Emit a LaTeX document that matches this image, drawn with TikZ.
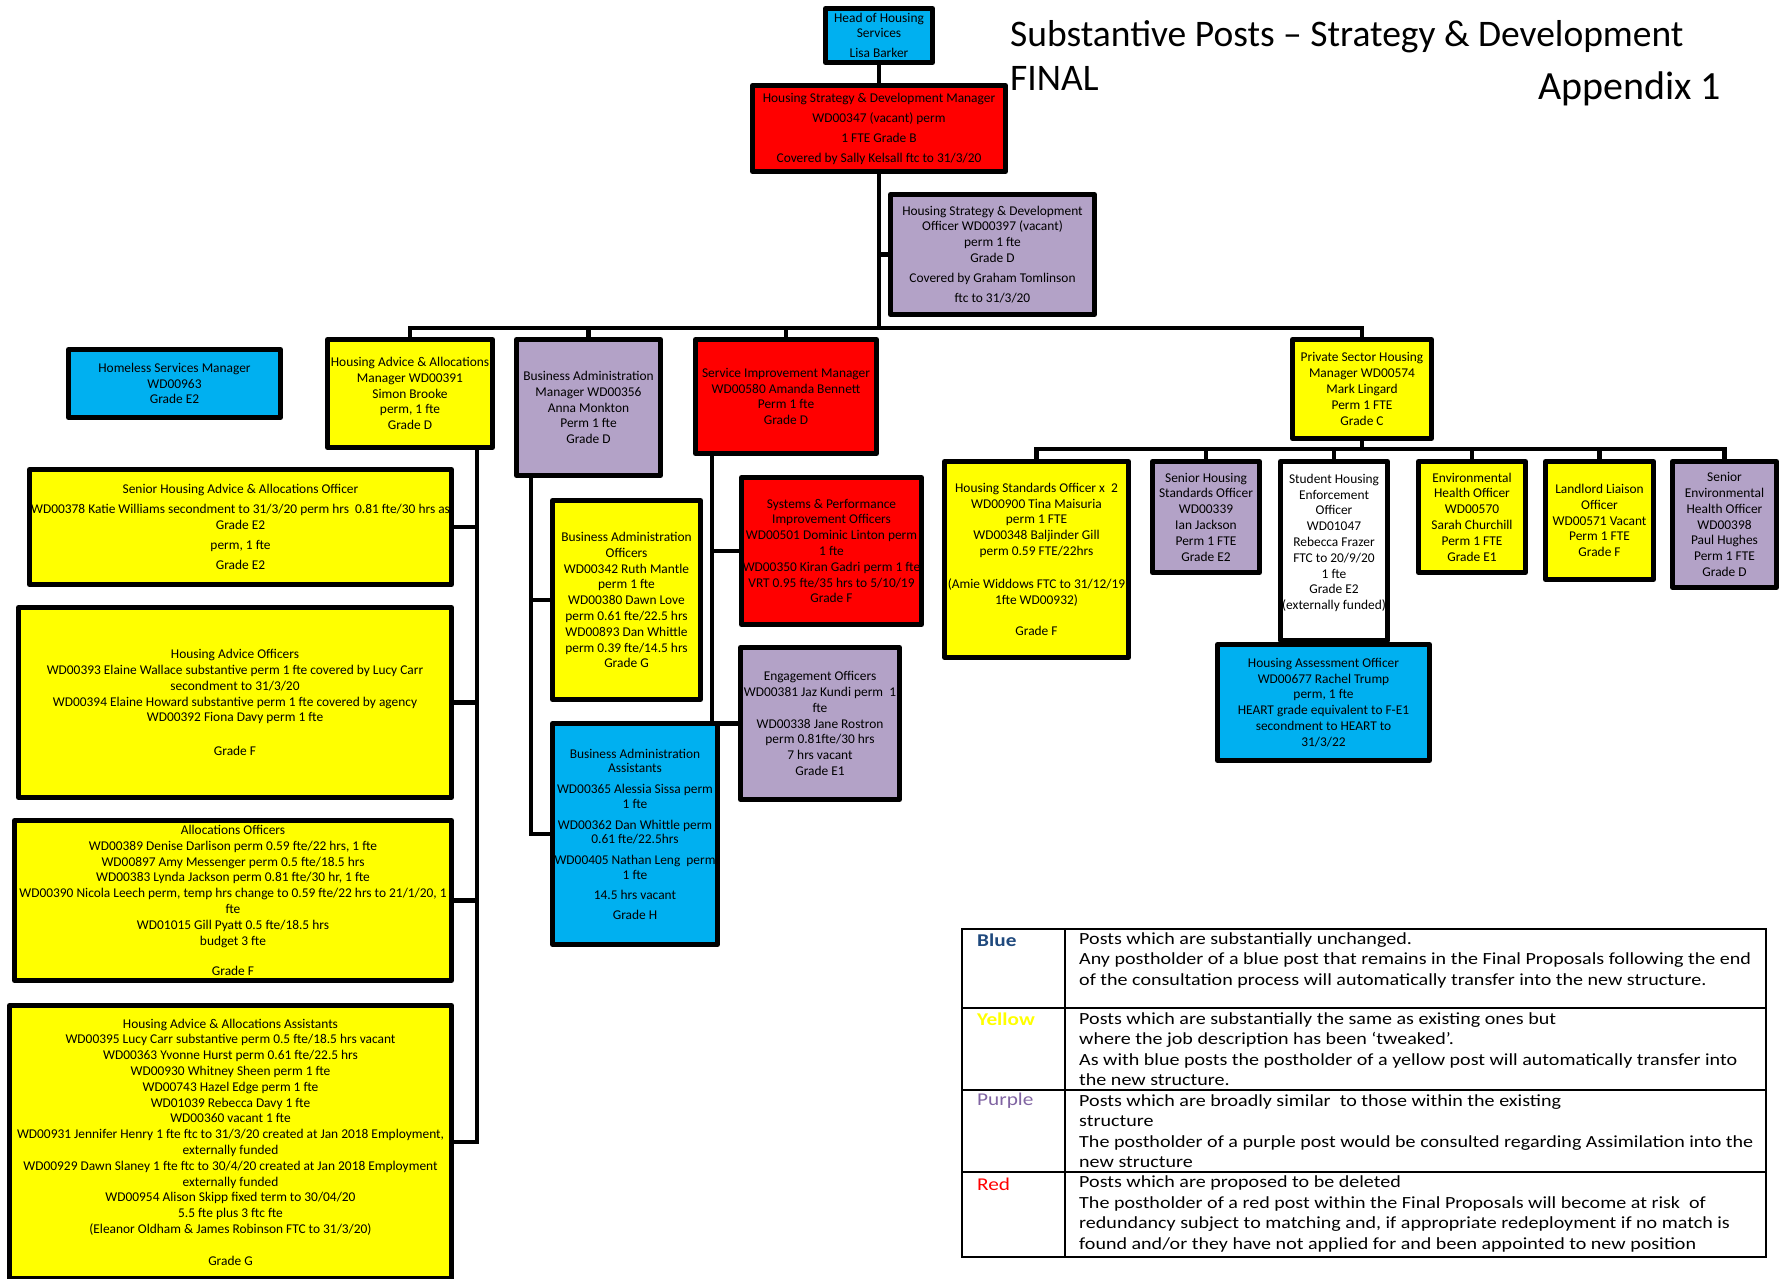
\documentclass[tikz,border=0pt]{standalone}
\usepackage{fontspec}
\setmainfont{Carlito}
\newfontfamily\legfont[FakeStretch=1.18]{Carlito}
\usetikzlibrary{fit}
\pgfdeclarelayer{back}
\pgfdeclarelayer{bg}
\pgfsetlayers{back,bg,main}
\definecolor{cblue}{HTML}{00B0F0}
\definecolor{cred}{HTML}{FF0000}
\definecolor{cyel}{HTML}{FFFF00}
\definecolor{cpur}{HTML}{B3A2C7}
\definecolor{lblue}{HTML}{1F497D}
\definecolor{lpur}{HTML}{8064A2}
\newcommand{\mkpost}[6][]{%
  \node[post, fill=#3, fit={([shift={(2.5,2.5)}]#4) ([shift={(-2.5,-2.5)}]#5)}] (#2) {};
  \node[txt,#1] (#2-t) at (#2.center) {#6};}
\begin{document}
\begin{tikzpicture}[x=1pt,y=-1pt,
  post/.style={draw=black, line width=5pt, inner sep=0pt, line join=round},
  txt/.style={align=center, inner sep=0pt, font=\fontsize{13.4}{15.8}\selectfont},
  conn/.style={line width=4.5pt, line cap=rect, draw=black},
  legline/.style={line width=2.5pt, draw=black},
  legtxt/.style={anchor=west, align=left, inner sep=0pt, font=\legfont\fontsize{17}{20.5}\selectfont},
  leglab/.style={anchor=west, inner sep=0pt, font=\legfont\fontsize{18}{20.5}\selectfont},
  titletxt/.style={anchor=base west, inner sep=0pt, font=\fontsize{37.5}{40}\selectfont}]
\useasboundingbox (0,0) rectangle (1783,1279);
\begin{pgfonlayer}{back}
\fill[white] (0,0) rectangle (1783,1279);
\end{pgfonlayer}

% title
\node[titletxt] (title) at (1010,47) {Substantive Posts – Strategy \& Development};
\node[titletxt] (final) at (1010,91) {FINAL};
\node[titletxt, font=\fontsize{40}{42}\selectfont] (app) at (1538,100) {Appendix 1};

% top
\mkpost[font=\fontsize{13.4}{14.5}\selectfont]{head}{cblue}{823,6}{935,65}{Head of Housing\\Services\\[6pt]Lisa Barker}
\mkpost{hsdm}{cred}{750,83}{1008,174}{Housing Strategy \& Development Manager\\[4.2pt]WD00347 (vacant) perm\\[4.2pt]1 FTE Grade B\\[4.2pt]Covered by Sally Kelsall ftc to 31/3/20}
\mkpost{hsdo}{cpur}{888,192}{1097,317}{Housing Strategy \& Development\\Officer WD00397 (vacant)\\perm 1 fte\\Grade D\\[4.2pt]Covered by Graham Tomlinson\\[4.2pt]ftc to 31/3/20}

% row 2
\mkpost{hsm}{cblue}{66,347}{283,420}{Homeless Services Manager\\WD00963\\Grade E2}
\mkpost{haam}{cyel}{325,337}{495,450}{Housing Advice \& Allocations\\Manager WD00391\\Simon Brooke\\perm, 1 fte\\Grade D}
\mkpost{bam}{cpur}{514,337}{663,478}{Business Administration\\Manager WD00356\\Anna Monkton\\Perm 1 fte\\Grade D}
\mkpost{sim}{cred}{693,337}{879,456}{Service Improvement Manager\\WD00580 Amanda Bennett\\Perm 1 fte\\Grade D}
\mkpost{psh}{cyel}{1290,337}{1434,441}{Private Sector Housing\\Manager WD00574\\Mark Lingard\\Perm 1 FTE\\Grade C}

% left column
\mkpost{shaao}{cyel}{27,467}{454,587}{Senior Housing Advice \& Allocations Officer\\[4.2pt]WD00378 Katie Williams secondment to 31/3/20 perm hrs\ \ 0.81 fte/30 hrs as\\Grade E2\\[4.2pt]perm, 1 fte\\[4.2pt]Grade E2}
\mkpost{hao}{cyel}{16,605}{454,800}{Housing Advice Officers\\WD00393 Elaine Wallace substantive perm 1 fte covered by Lucy Carr\\secondment to 31/3/20\\WD00394 Elaine Howard substantive perm 1 fte covered by agency\\WD00392 Fiona Davy perm 1 fte\\[18pt]Grade F}
\mkpost{alloc}{cyel}{12,818}{454,983}{Allocations Officers\\WD00389 Denise Darlison perm 0.59 fte/22 hrs, 1 fte\\WD00897 Amy Messenger perm 0.5 fte/18.5 hrs\\WD00383 Lynda Jackson perm 0.81 fte/30 hr, 1 fte\\WD00390 Nicola Leech perm, temp hrs change to 0.59 fte/22 hrs to 21/1/20, 1\\fte\\WD01015 Gill Pyatt 0.5 fte/18.5 hrs\\budget 3 fte\\[15pt]Grade F}
\mkpost{assist}{cyel}{7,1003}{454,1281}{Housing Advice \& Allocations Assistants\\WD00395 Lucy Carr substantive perm 0.5 fte/18.5 hrs vacant\\WD00363 Yvonne Hurst perm 0.61 fte/22.5 hrs\\WD00930 Whitney Sheen perm 1 fte\\WD00743 Hazel Edge perm 1 fte\\WD01039 Rebecca Davy 1 fte\\WD00360 vacant 1 fte\\WD00931 Jennifer Henry 1 fte ftc to 31/3/20 created at Jan 2018 Employment,\\externally funded\\WD00929 Dawn Slaney 1 fte ftc to 30/4/20 created at Jan 2018 Employment\\externally funded\\WD00954 Alison Skipp fixed term to 30/04/20\\5.5 fte plus 3 ftc fte\\(Eleanor Oldham \& James Robinson FTC to 31/3/20)\\[16pt]Grade G}

% business admin
\mkpost{bao}{cyel}{550,498}{703,702}{Business Administration\\Officers\\WD00342 Ruth Mantle\\perm 1 fte\\WD00380 Dawn Love\\perm 0.61 fte/22.5 hrs\\WD00893 Dan Whittle\\perm 0.39 fte/14.5 hrs\\Grade G}
\mkpost[font=\fontsize{13.4}{14.5}\selectfont]{baa}{cblue}{550,721}{720,947}{Business Administration\\Assistants\\[6.5pt]WD00365 Alessia Sissa perm\\1 fte\\[6.5pt]WD00362 Dan Whittle perm\\0.61 fte/22.5hrs\\[6.5pt]WD00405 Nathan Leng\ \ perm\\1 fte\\[5.5pt]14.5 hrs vacant\\[5.5pt]Grade H}

% service improvement
\mkpost{sys}{cred}{739,475}{924,627}{Systems \& Performance\\Improvement Officers\\WD00501 Dominic Linton perm\\1 fte\\WD00350 Kiran Gadri perm 1 fte\\VRT 0.95 fte/35 hrs to 5/10/19\\Grade F}
\mkpost{eng}{cpur}{738,645}{902,802}{Engagement Officers\\WD00381 Jaz Kundi perm\ \ 1\\fte\\WD00338 Jane Rostron\\perm 0.81fte/30 hrs\\7 hrs vacant\\Grade E1}

% private sector
\mkpost{hso}{cyel}{942,459}{1131,660}{Housing Standards Officer x\ \ 2\\WD00900 Tina Maisuria\\perm 1 FTE\\WD00348 Baljinder Gill\\perm 0.59 FTE/22hrs\\[17pt](Amie Widdows FTC to 31/12/19\\1fte WD00932)\\[16pt]Grade F}
\mkpost{shso}{cpur}{1150,459}{1262,575}{Senior Housing\\Standards Officer\\WD00339\\Ian Jackson\\Perm 1 FTE\\Grade E2}
\mkpost[yshift=8pt]{sheo}{white}{1278,459}{1390,643}{Student Housing\\Enforcement\\Officer\\WD01047\\Rebecca Frazer\\FTC to 20/9/20\\1 fte\\Grade E2\\(externally funded)}
\mkpost{eho}{cyel}{1416,459}{1528,575}{Environmental\\Health Officer\\WD00570\\Sarah Churchill\\Perm 1 FTE\\Grade E1}
\mkpost{llo}{cyel}{1543,459}{1656,582}{Landlord Liaison\\Officer\\WD00571 Vacant\\Perm 1 FTE\\Grade F}
\mkpost{seho}{cpur}{1670,459}{1779,590}{Senior\\Environmental\\Health Officer\\WD00398\\Paul Hughes\\Perm 1 FTE\\Grade D}
\mkpost{ha}{cblue}{1215,642}{1432,763}{Housing Assessment Officer\\WD00677 Rachel Trump\\perm, 1 fte\\HEART grade equivalent to F-E1\\secondment to HEART to\\31/3/22}

% connectors
\coordinate (busY) at (0,328);
\coordinate (sbY) at (0,449);
\coordinate (hsp) at (477,450);
\coordinate (bsp) at (531,478);
\coordinate (ssp) at (712,456);
\begin{pgfonlayer}{bg}
\draw[conn] (head.south) -- (hsdm.north);
\draw[conn] (hsdm.south) -- (hsdm.south |- busY);
\draw[conn] (hsdo.west) -- (hsdo.west -| hsdm.south);
\draw[conn] (haam.north) |- (psh.north |- busY) -- (psh.north);
\draw[conn] (bam.north) -- (bam.north |- busY);
\draw[conn] (sim.north) -- (sim.north |- busY);
% housing advice spine
\draw[conn] (hsp) |- (assist.east);
\draw[conn] (shaao.east) -- (shaao.east -| hsp);
\draw[conn] (hao.east) -- (hao.east -| hsp);
\draw[conn] (alloc.east) -- (alloc.east -| hsp);
% business admin spine
\draw[conn] (bsp) |- (baa.west);
\draw[conn] (bao.west) -- (bao.west -| bsp);
% service improvement spine
\draw[conn] (ssp) |- (eng.west);
\draw[conn] (sys.west) -- (sys.west -| ssp);
% private sector
\draw[conn] (psh.south) -- (psh.south |- sbY);
\draw[conn] (hso.north) |- (seho.north |- sbY) -- (seho.north);
\draw[conn] (shso.north) -- (shso.north |- sbY);
\draw[conn] (sheo.north) -- (sheo.north |- sbY);
\draw[conn] (eho.north) -- (eho.north |- sbY);
\draw[conn] (llo.north) -- (llo.north |- sbY);
\end{pgfonlayer}

% legend
\draw[legline] (962,929) rectangle (1766,1257);
\draw[legline] (962,1008) -- (1766,1008);
\draw[legline] (962,1090) -- (1766,1090);
\draw[legline] (962,1172) -- (1766,1172);
\draw[legline] (1065,929) -- (1065,1257);
\node[leglab, text=lblue, font=\legfont\fontsize{18}{20.5}\selectfont\bfseries] (lab1) at (977,940) {Blue};
\node[leglab, text=cyel, font=\legfont\fontsize{18}{20.5}\selectfont\bfseries] (lab2) at (977,1019) {Yellow};
\node[leglab, text=lpur] (lab3) at (977,1101) {Purple};
\node[leglab, text=cred] (lab4) at (977,1184) {Red};
\node[legtxt] (leg1) at (1079,960) {Posts which are substantially unchanged.\\Any postholder of a blue post that remains in the Final Proposals following the end\\of the consultation process will automatically transfer into the new structure.};
\node[legtxt] (leg2) at (1079,1049) {Posts which are substantially the same as existing ones but\\where the job description has been ‘tweaked’.\\As with blue posts the postholder of a yellow post will automatically transfer into\\the new structure.};
\node[legtxt] (leg3) at (1079,1131) {Posts which are broadly similar\ \ to those within the existing\\structure\\The postholder of a purple post would be consulted regarding Assimilation into the\\new structure};
\node[legtxt] (leg4) at (1079,1214) {Posts which are proposed to be deleted\\The postholder of a red post within the Final Proposals will become at risk\ \ of\\redundancy subject to matching and, if appropriate redeployment if no match is\\found and/or they have not applied for and been appointed to new position};
\end{tikzpicture}
\end{document}
